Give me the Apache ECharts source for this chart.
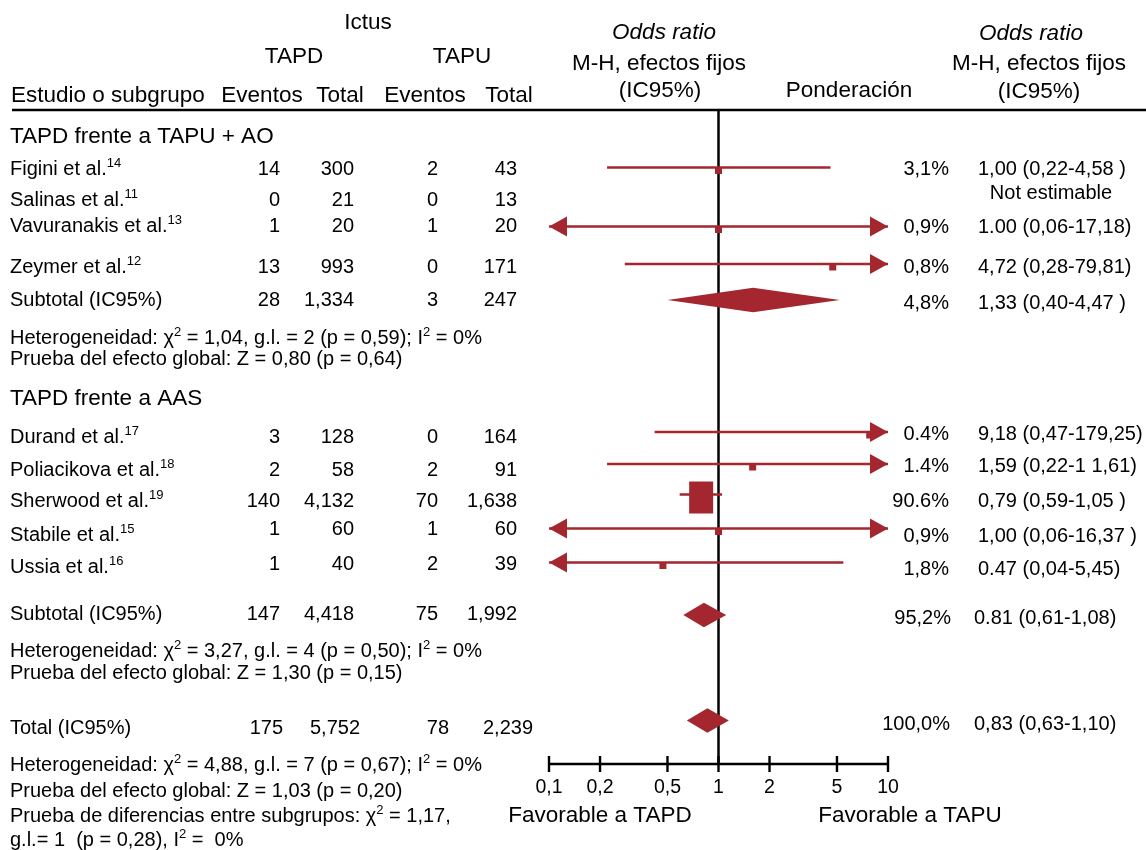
<!DOCTYPE html>
<html>
<head>
<meta charset="utf-8">
<script src="https://cdn.jsdelivr.net/npm/echarts@6/dist/echarts.min.js"></script>
<style>
html,body{margin:0;padding:0;background:#ffffff;}
#c{width:1146px;height:850px;}
</style>
</head>
<body>
<div id="c"></div>
<script>
// ---------------- DATA ----------------
const group1Title = 'TAPD frente a TAPU + AO';
const group1Names = ['Figini et al.', 'Salinas et al.', 'Vavuranakis et al.', 'Zeymer et al.'];
const group1Refs = ['14', '11', '13', '12'];
const group1TapdEvents = [14, 0, 1, 13];
const group1TapdTotal = [300, 21, 20, 993];
const group1TapuEvents = [2, 0, 1, 0];
const group1TapuTotal = [43, 13, 20, 171];
const group1WeightText = ['3,1%', '', '0,9%', '0,8%'];
const group1Weight = [3.1, 0, 0.9, 0.8];
const group1OrText = ['1,00 (0,22-4,58 )', 'Not estimable', '1.00 (0,06-17,18)', '4,72 (0,28-79,81)'];
const group1Or = [1.00, null, 1.00, 4.72];
const group1Low = [0.22, null, 0.06, 0.28];
const group1High = [4.58, null, 17.18, 79.81];

const group2Title = 'TAPD frente a AAS';
const group2Names = ['Durand et al.', 'Poliacikova et al.', 'Sherwood et al.', 'Stabile et al.', 'Ussia et al.'];
const group2Refs = ['17', '18', '19', '15', '16'];
const group2TapdEvents = [3, 2, 140, 1, 1];
const group2TapdTotal = [128, 58, 4132, 60, 40];
const group2TapuEvents = [0, 2, 70, 1, 2];
const group2TapuTotal = [164, 91, 1638, 60, 39];
const group2WeightText = ['0.4%', '1.4%', '90.6%', '0,9%', '1,8%'];
const group2Weight = [0.4, 1.4, 90.6, 0.9, 1.8];
const group2OrText = ['9,18 (0,47-179,25)', '1,59 (0,22-1 1,61)', '0,79 (0,59-1,05 )', '1,00 (0,06-16,37 )', '0.47 (0,04-5,45)'];
const group2Or = [7.8, 1.59, 0.79, 1.00, 0.47];
const group2Low = [0.42, 0.22, 0.59, 0.06, 0.04];
const group2High = [179.25, 11.61, 1.05, 16.37, 5.45];

// subtotal / total rows: [TAPD events, TAPD total, TAPU events, TAPU total]
const sub1Counts = [28, 1334, 3, 247];
const sub1WeightText = '4,8%';
const sub1OrText = '1,33 (0,40-4,47 )';
const sub1Diamond = [0.50, 1.60, 5.19];   // low, centre, high as drawn
const sub2Counts = [147, 4418, 75, 1992];
const sub2WeightText = '95,2%';
const sub2OrText = '0.81 (0,61-1,08)';
const sub2Diamond = [0.62, 0.82, 1.11];
const totalCounts = [175, 5752, 78, 2239];
const totalWeightText = '100,0%';
const totalOrText = '0,83 (0,63-1,10)';
const totalDiamond = [0.65, 0.86, 1.15];

const het1Lines = ['Heterogeneidad: χ{s|2} = 1,04, g.l. = 2 (p = 0,59); I{s|2} = 0%', 'Prueba del efecto global: Z = 0,80 (p = 0,64)'];
const het2Lines = ['Heterogeneidad: χ{s|2} = 3,27, g.l. = 4 (p = 0,50); I{s|2} = 0%', 'Prueba del efecto global: Z = 1,30 (p = 0,15)'];
const het3Lines = ['Heterogeneidad: χ{s|2} = 4,88, g.l. = 7 (p = 0,67); I{s|2} = 0%', 'Prueba del efecto global: Z = 1,03 (p = 0,20)', 'Prueba de diferencias entre subgrupos: χ{s|2} = 1,17,', 'g.l.= 1  (p = 0,28), I{s|2} =  0%'];

const axisTicks = [0.1, 0.2, 0.5, 1, 2, 5, 10];
const axisTickLabels = ['0,1', '0,2', '0,5', '1', '2', '5', '10'];
const favourLeft = 'Favorable a TAPD';
const favourRight = 'Favorable a TAPU';

// ---------------- LAYOUT / STYLE ----------------
const FONT = '"Liberation Sans", Arial, Helvetica, sans-serif';
const RED = '#A4262F';
const INK = '#000000';
const BODY = 20, HEAD = 22.5;
const AX_MIN = 0.1, AX_MAX = 10;
const HEADER_LINE_Y = 110, AXIS_Y = 764;
const colRight = [280, 354, 438, 517];
const colRightTotal = [283, 360, 449, 533];
const WEIGHT_RIGHT = 949, OR_LEFT = 978;

const g1NameY = [169, 200, 226, 267];
const g1MarkY = [167.5, 0, 226.5, 264];
const g1RightY = [169, 193, 227, 267];
const g2NameY = [437, 470, 501, 535, 567];
const g2NumY = [437, 470, 501, 529, 564];
const g2MarkY = [432, 464, 494.5, 528.5, 562.5];
const g2RightY = [434, 466, 501, 536, 569];

function fmt(n) { return String(n).replace(/\B(?=(\d{3})+(?!\d))/g, ','); }

function T(x, y, text, o) {
  o = o || {};
  const size = o.size || BODY;
  return {
    type: 'text', x: x, y: y, silent: true,
    style: {
      text: text, fill: INK, fontSize: size, fontFamily: FONT,
      fontStyle: o.italic ? 'italic' : 'normal',
      align: o.align || 'left', textAlign: o.align || 'left',
      verticalAlign: 'middle', textVerticalAlign: 'middle',
      rich: { s: { fontSize: Math.round(size * 0.65), fontFamily: FONT, fill: INK, padding: [0, 0, 11, 0] } }
    }
  };
}

const graphics = [];
// header
graphics.push(T(368, 23, 'Ictus', { size: HEAD, align: 'center' }));
graphics.push(T(294, 57, 'TAPD', { size: HEAD, align: 'center' }));
graphics.push(T(462, 57, 'TAPU', { size: HEAD, align: 'center' }));
graphics.push(T(11, 95.5, 'Estudio o subgrupo', { size: HEAD }));
graphics.push(T(262, 95.5, 'Eventos', { size: HEAD, align: 'center' }));
graphics.push(T(340, 95.5, 'Total', { size: HEAD, align: 'center' }));
graphics.push(T(425, 95.5, 'Eventos', { size: HEAD, align: 'center' }));
graphics.push(T(509, 95.5, 'Total', { size: HEAD, align: 'center' }));
graphics.push(T(664, 32.5, 'Odds ratio', { size: HEAD, align: 'center', italic: true }));
graphics.push(T(659, 63.5, 'M-H, efectos fijos', { size: HEAD, align: 'center' }));
graphics.push(T(660, 91, '(IC95%)', { size: HEAD, align: 'center' }));
graphics.push(T(849, 91, 'Ponderación', { size: HEAD, align: 'center' }));
graphics.push(T(1031, 34, 'Odds ratio', { size: HEAD, align: 'center', italic: true }));
graphics.push(T(1039, 64, 'M-H, efectos fijos', { size: HEAD, align: 'center' }));
graphics.push(T(1039, 92, '(IC95%)', { size: HEAD, align: 'center' }));
graphics.push({ type: 'line', silent: true, shape: { x1: 12, y1: HEADER_LINE_Y, x2: 1146, y2: HEADER_LINE_Y }, style: { stroke: INK, lineWidth: 2.5 } });

function countRow(counts, y, cols) {
  counts.forEach(function (v, i) { graphics.push(T(cols[i], y, fmt(v), { align: 'right' })); });
}

// group 1
graphics.push(T(10, 137, group1Title, { size: HEAD }));
group1Names.forEach(function (n, i) {
  graphics.push(T(10, g1NameY[i], n + '{s|' + group1Refs[i] + '}'));
  countRow([group1TapdEvents[i], group1TapdTotal[i], group1TapuEvents[i], group1TapuTotal[i]], g1NameY[i], colRight);
  if (group1WeightText[i]) graphics.push(T(WEIGHT_RIGHT, g1RightY[i], group1WeightText[i], { align: 'right' }));
  if (group1Or[i] === null) graphics.push(T(1051, g1RightY[i], group1OrText[i], { align: 'center' }));
  else graphics.push(T(OR_LEFT, g1RightY[i], group1OrText[i]));
});
graphics.push(T(10, 300, 'Subtotal (IC95%)'));
countRow(sub1Counts, 300, colRight);
graphics.push(T(WEIGHT_RIGHT, 303, sub1WeightText, { align: 'right' }));
graphics.push(T(OR_LEFT, 303, sub1OrText));
graphics.push(T(10, 338, het1Lines[0]));
graphics.push(T(10, 359, het1Lines[1]));

// group 2
graphics.push(T(10, 398.5, group2Title, { size: HEAD }));
group2Names.forEach(function (n, i) {
  graphics.push(T(10, g2NameY[i], n + '{s|' + group2Refs[i] + '}'));
  countRow([group2TapdEvents[i], group2TapdTotal[i], group2TapuEvents[i], group2TapuTotal[i]], g2NumY[i], colRight);
  graphics.push(T(WEIGHT_RIGHT, g2RightY[i], group2WeightText[i], { align: 'right' }));
  graphics.push(T(OR_LEFT, g2RightY[i], group2OrText[i]));
});
graphics.push(T(10, 614, 'Subtotal (IC95%)'));
countRow(sub2Counts, 614, colRight);
graphics.push(T(951, 618, sub2WeightText, { align: 'right' }));
graphics.push(T(974, 618, sub2OrText));
graphics.push(T(10, 651, het2Lines[0]));
graphics.push(T(10, 673, het2Lines[1]));

// total
graphics.push(T(10, 728, 'Total (IC95%)'));
countRow(totalCounts, 728, colRightTotal);
graphics.push(T(950, 724, totalWeightText, { align: 'right' }));
graphics.push(T(974, 724, totalOrText));
const het3Y = [765, 791, 816, 840];
het3Lines.forEach(function (t, i) { graphics.push(T(10, het3Y[i], t)); });

graphics.push(T(600, 815.5, favourLeft, { size: HEAD, align: 'center' }));
graphics.push(T(910, 815.5, favourRight, { size: HEAD, align: 'center' }));

// ---------------- MARKS (through the log x scale) ----------------
const studyData = [];
group1Or.forEach(function (v, i) {
  if (v !== null) studyData.push([group1Low[i], g1MarkY[i], group1High[i], v, group1Weight[i]]);
});
group2Or.forEach(function (v, i) {
  studyData.push([group2Low[i], g2MarkY[i], group2High[i], v, group2Weight[i]]);
});
const diamondData = [
  [sub1Diamond[0], 300, sub1Diamond[1], sub1Diamond[2]],
  [sub2Diamond[0], 615, sub2Diamond[1], sub2Diamond[2]],
  [totalDiamond[0], 720.5, totalDiamond[1], totalDiamond[2]]
];

function arrow(tipX, y, dir) {
  return { type: 'polygon', shape: { points: [[tipX, y], [tipX + dir * 18, y - 10], [tipX + dir * 18, y + 10]] }, style: { fill: RED } };
}

function renderStudy(params, api) {
  const lo = api.value(0), y = api.value(1), hi = api.value(2), pt = api.value(3), w = api.value(4);
  const a = api.coord([Math.max(lo, AX_MIN), y]);
  const b = api.coord([Math.min(hi, AX_MAX), y]);
  const c = api.coord([pt, y]);
  const bw = Math.max(7, 2.52 * Math.sqrt(w));
  const bh = Math.max(7, 3.36 * Math.sqrt(w));
  const ch = [{ type: 'line', shape: { x1: a[0], y1: a[1], x2: b[0], y2: b[1] }, style: { stroke: RED, lineWidth: 2.3 } }];
  if (lo < AX_MIN) ch.push(arrow(a[0], a[1], 1));
  if (hi > AX_MAX) ch.push(arrow(b[0], b[1], -1));
  ch.push({ type: 'rect', shape: { x: c[0] - bw / 2, y: c[1] + 3 - bh / 2, width: bw, height: bh }, style: { fill: RED } });
  return { type: 'group', children: ch };
}

function renderDiamond(params, api) {
  const y = api.value(1);
  const l = api.coord([api.value(0), y]);
  const m = api.coord([api.value(2), y]);
  const r = api.coord([api.value(3), y]);
  return { type: 'polygon', shape: { points: [l, [m[0], y - 12.3], r, [m[0], y + 12.3]] }, style: { fill: RED } };
}

function renderZero(params, api) {
  const p0 = api.coord([api.value(0), api.value(1)]);
  const p1 = api.coord([api.value(0), api.value(2)]);
  return { type: 'line', shape: { x1: p0[0], y1: p0[1], x2: p1[0], y2: p1[1] }, style: { stroke: INK, lineWidth: 2.5 } };
}

function renderAxisLine(params, api) {
  const p0 = api.coord([api.value(0), api.value(1)]);
  const p1 = api.coord([api.value(2), api.value(1)]);
  return { type: 'line', shape: { x1: p0[0] - 1, y1: p0[1], x2: p1[0] + 1, y2: p1[1] }, style: { stroke: INK, lineWidth: 2.5 } };
}

function renderTick(params, api) {
  const p = api.coord([api.value(0), api.value(1)]);
  return {
    type: 'group', children: [
      { type: 'line', shape: { x1: p[0], y1: p[1] - 8, x2: p[0], y2: p[1] + 8 }, style: { stroke: INK, lineWidth: 2.4 } },
      { type: 'text', x: p[0], y: p[1] + 23.5, style: { text: axisTickLabels[params.dataIndex], fill: INK, fontSize: 19.5, fontFamily: FONT, align: 'center', verticalAlign: 'middle', textAlign: 'center', textVerticalAlign: 'middle' } }
    ]
  };
}

const chart = echarts.init(document.getElementById('c'));
chart.setOption({
  backgroundColor: '#ffffff',
  animation: false,
  grid: { left: 549, right: 1146 - 888, top: 0, bottom: 0 },
  xAxis: { type: 'log', logBase: 10, min: AX_MIN, max: AX_MAX, show: false },
  yAxis: { type: 'value', min: 0, max: 850, inverse: true, show: false },
  graphic: graphics,
  series: [
    { type: 'custom', clip: false, renderItem: renderZero, data: [[1, HEADER_LINE_Y, AXIS_Y]], z: 2 },
    { type: 'custom', clip: false, renderItem: renderAxisLine, data: [[AX_MIN, AXIS_Y, AX_MAX]], z: 2 },
    { type: 'custom', clip: false, renderItem: renderTick, data: axisTicks.map(function (v) { return [v, AXIS_Y]; }), z: 2 },
    { type: 'custom', clip: false, renderItem: renderStudy, data: studyData, z: 3 },
    { type: 'custom', clip: false, renderItem: renderDiamond, data: diamondData, z: 3 }
  ]
});
</script>
</body>
</html>
